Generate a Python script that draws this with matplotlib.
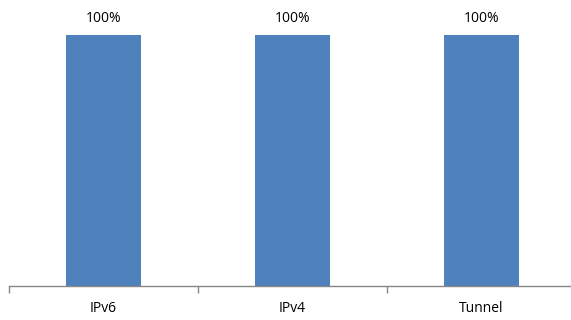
import matplotlib
matplotlib.use("Agg")
import matplotlib.pyplot as plt

categories = ["IPv6", "IPv4", "Tunnel"]
values = [100, 100, 100]
value_labels = ["100%", "100%", "100%"]

plt.rcParams["font.family"] = ["Open Sans", "DejaVu Sans"]

fig = plt.figure(figsize=(5.71, 3.2), dpi=100)
ax = fig.add_axes([9 / 571, 34 / 320, 567 / 571, 276 / 320])

x = list(range(len(categories)))
bars = ax.bar(x, values, width=0.4, color="#4F81BD", zorder=2)

for b, lab in zip(bars, value_labels):
    ax.annotate(lab, (b.get_x() + b.get_width() / 2, b.get_height()),
                xytext=(0, 6.5), textcoords="offset points",
                ha="center", va="bottom", fontsize=10, color="black")

ax.set_xlim(-0.5, len(categories) - 0.5)
ax.set_ylim(0, 110)

for side in ("top", "right", "left"):
    ax.spines[side].set_visible(False)
ax.spines["bottom"].set_color("#868686")
ax.spines["bottom"].set_linewidth(1.0)

ax.set_yticks([])
ax.set_xticks(x)
ax.set_xticklabels(categories, fontsize=10)
ax.tick_params(axis="x", which="major", length=0, pad=11)
ax.set_xticks([i - 0.5 for i in range(len(categories) + 1)], minor=True)
ax.tick_params(axis="x", which="minor", length=5, color="#868686", width=1.0)

fig.savefig("out.png", dpi=100)
